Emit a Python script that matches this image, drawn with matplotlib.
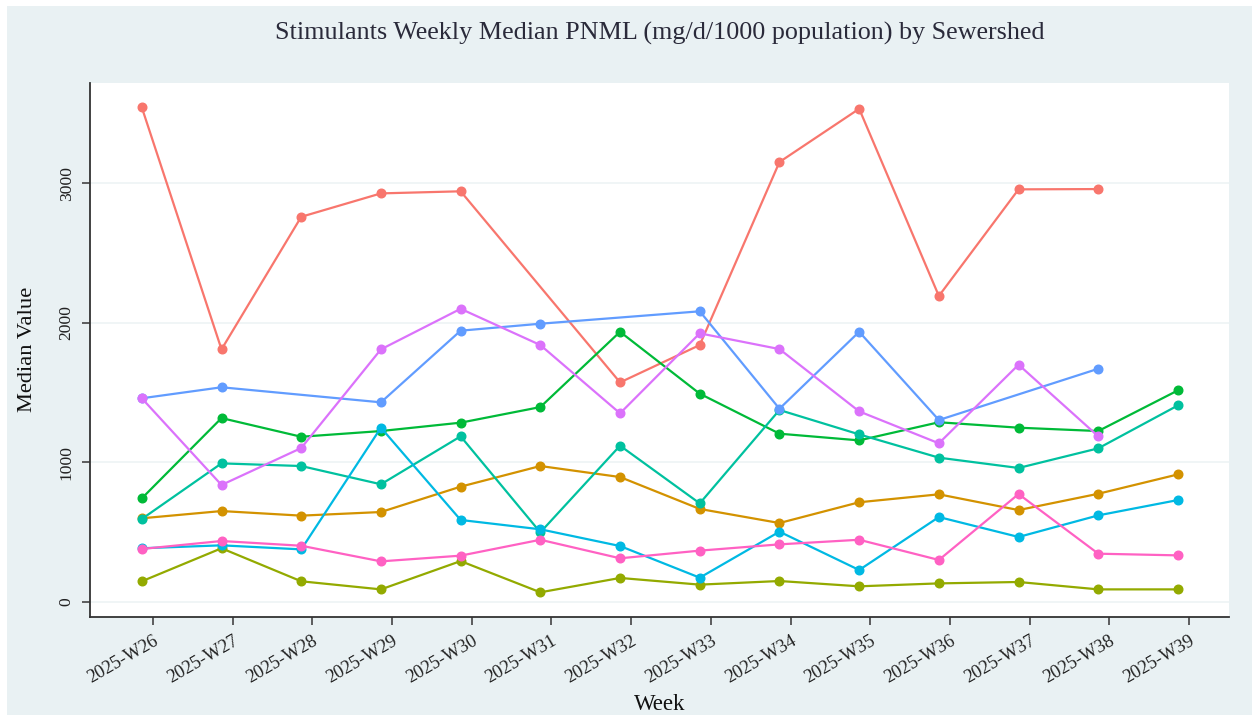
import numpy as np
import matplotlib
matplotlib.use("Agg")
import matplotlib.pyplot as plt
from matplotlib.patches import Rectangle

weeks = ["2025-W26", "2025-W27", "2025-W28", "2025-W29", "2025-W30", "2025-W31", "2025-W32",
         "2025-W33", "2025-W34", "2025-W35", "2025-W36", "2025-W37", "2025-W38", "2025-W39"]
nan = np.nan

red    = [3545, 1809, 2760, 2928, 2943, nan, 1572, 1840, 3153, 3535, 2192, 2957, 2959, nan]
gold   = [597, 649, 616, 642, 824, 972, 893, 664, 563, 712, 769, 656, 773, 912]
olive  = [145, 382, 145, 87, 290, 66, 169, 121, 147, 109, 130, 140, 87, 87]
green  = [740, 1316, 1182, 1223, 1283, 1395, 1935, 1491, 1204, 1156, 1286, 1247, 1223, 1515]
teal   = [592, 991, 972, 841, 1185, 496, 1118, 704, 1374, 1199, 1032, 958, 1099, 1407]
cyan   = [382, 403, 374, 1247, 585, 518, 398, 171, 501, 226, 606, 463, 618, 728]
blue   = [1458, 1537, nan, 1429, 1943, 1993, nan, 2082, 1383, 1935, 1302, nan, 1670, nan]
purple = [1458, 836, 1101, 1809, 2100, 1840, 1350, 1924, 1811, 1364, 1135, 1699, 1185, nan]
pink   = [377, 434, 400, 288, 329, 443, 310, 365, 410, 443, 298, 771, 343, 331]

series = [red, gold, olive, green, teal, cyan, blue, purple, pink]
colors = ["#F8766D", "#D39200", "#93AA00", "#00BA38", "#00C19F",
          "#00B9E3", "#619CFF", "#DB72FB", "#FF61C3"]

W, H = 1252, 715
fig = plt.figure(figsize=(W / 100, H / 100), dpi=100)
fig.patch.set_facecolor("white")
bg = "#E9F1F3"
fig.patches.append(Rectangle((7 / W, 0), 1 - 7 / W, 1 - 6 / H, transform=fig.transFigure,
                             facecolor=bg, edgecolor="none", zorder=-10))

ax = fig.add_axes([90 / W, 1 - 616.7 / H, (1229 - 90) / W, (616.7 - 83) / H])
ax.set_facecolor("white")

serif = ["Liberation Serif", "DejaVu Serif"]
offset = -0.14
xs = np.arange(len(weeks)) + offset
for vals, c in zip(series, colors):
    v = np.array(vals, dtype=float)
    m = ~np.isnan(v)
    ax.plot(xs[m], v[m], color=c, lw=1.6, marker="o", ms=6.2, mec=c, mfc=c, zorder=3)

ax.set_xlim(-0.79, 13.5)
ax.set_ylim(-109, 3720)
ax.set_xticks(np.arange(len(weeks)))
ax.set_xticklabels(weeks, rotation=30, ha="right", rotation_mode="anchor",
                   fontfamily=serif, fontsize=13.3, color="#222222")
ax.set_yticks([0, 1000, 2000, 3000])
ax.set_yticklabels(["0", "1000", "2000", "3000"], rotation=90, va="center",
                   fontfamily=serif, fontsize=12.6, color="#222222")
ax.tick_params(axis="x", length=6, width=1.2, color="#444444", pad=5, direction="out")
ax.tick_params(axis="y", length=6, width=1.2, color="#444444", pad=5, direction="out")
ax.grid(axis="y", color="#EEF4F5", lw=1.2, zorder=0)
ax.set_axisbelow(True)
for s in ["top", "right"]:
    ax.spines[s].set_visible(False)
for s in ["left", "bottom"]:
    ax.spines[s].set_color("#333333")
    ax.spines[s].set_linewidth(1.3)

fig.text(660 / W, 1 - 33 / H, "Stimulants Weekly Median PNML (mg/d/1000 population) by Sewershed",
         ha="center", va="center", fontfamily=serif, fontsize=18.8, color="#2a2a3a")
fig.text(28 / W, 1 - 349 / H, "Median Value", rotation=90, ha="center", va="center",
         fontfamily=serif, fontsize=16.2, color="#111111")
fig.text(660 / W, 1 - 705 / H, "Week", ha="center", va="center",
         fontfamily=serif, fontsize=16.5, color="#111111")

fig.savefig("out.png", dpi=100, facecolor=fig.get_facecolor())
